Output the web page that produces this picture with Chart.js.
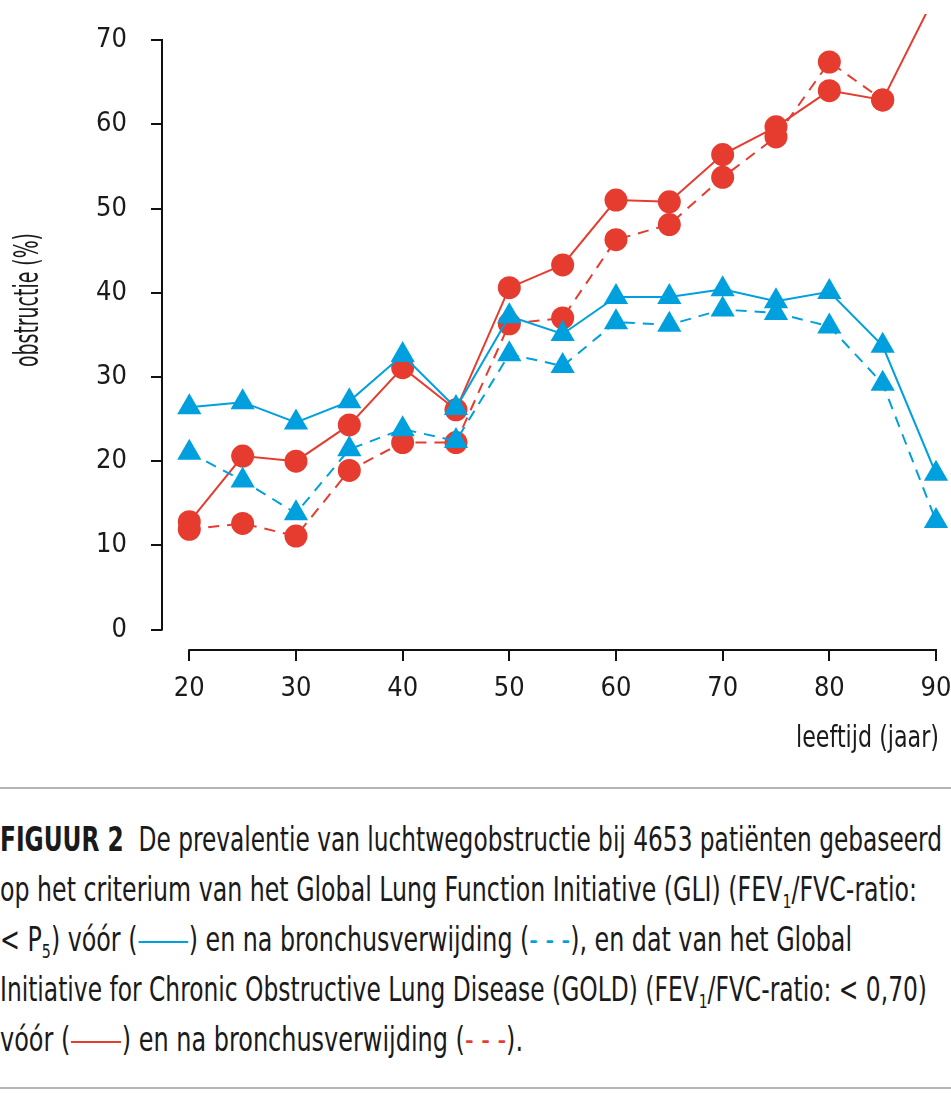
<!DOCTYPE html>
<html lang="nl">
<head>
<meta charset="utf-8">
<title>Figuur 2 – prevalentie luchtwegobstructie</title>
<script src="https://cdn.jsdelivr.net/npm/chart.js@4.4.1/dist/chart.umd.min.js"></script>
<style>
  html, body { margin: 0; padding: 0; background: #fff; }
  body {
    width: 951px; height: 1100px; overflow: hidden;
    font-family: 'DejaVu Sans Condensed', 'DejaVu Sans', sans-serif;
    font-stretch: condensed;
    color: #1a1a1a;
  }
  #wrap { position: relative; width: 951px; height: 770px; }
  .rule { height: 2px; background: #b5b5b5; }
  .cap { margin: 26px 0 22px 0; font-size: 33px; line-height: 50px; white-space: nowrap; }
  .cap > div { transform-origin: 0 50%; width: max-content; }
  .cap b { font-weight: bold; }
  .cap sub { font-size: 60%; vertical-align: -0.35em; line-height: 0; }
  .ln { display: inline-block; width: 62px; height: 0; border-top: 2px solid; vertical-align: middle; margin: 0 1px; }
  .blue { color: #00a0de; border-color: #00a0de; }
  .red  { color: #e63c2f; border-color: #e63c2f; }
</style>
</head>
<body>
<div id="wrap"><canvas id="chart" width="951" height="770"></canvas></div>
<div class="rule" style="margin-top:17px"></div>
<div class="cap" id="cap">
  <div><b>FIGUUR 2</b>&nbsp; De prevalentie van luchtwegobstructie bij 4653 patiënten gebaseerd</div>
  <div>op het criterium van het Global Lung Function Initiative (GLI) (FEV<sub>1</sub>/FVC-ratio:</div>
  <div>&lt; P<sub>5</sub>) vóór (<span class="ln blue"></span>) en na bronchusverwijding (<span class="blue">- - -</span>), en dat van het Global</div>
  <div>Initiative for Chronic Obstructive Lung Disease (GOLD) (FEV<sub>1</sub>/FVC-ratio: &lt; 0,70)</div>
  <div>vóór (<span class="ln red"></span>) en na bronchusverwijding (<span class="red">- - -</span>).</div>
</div>
<div class="rule"></div>

<script>
// leeftijd (jaar)
const ages = [20, 25, 30, 35, 40, 45, 50, 55, 60, 65, 70, 75, 80, 85, 90];

// obstructie (%) per criterium, vóór en na bronchusverwijding
const gliVoor  = [26.4, 27.0, 24.6, 27.1, 32.6, 26.3, 37.2, 35.1, 39.5, 39.5, 40.4, 39.0, 40.1, 33.7, 18.5];
const gliNa    = [21.0, 17.7, 13.8, 21.4, 23.8, 22.4, 32.7, 31.3, 36.5, 36.2, 38.0, 37.6, 36.0, 29.2, 12.9];
const goldVoor = [12.8, 20.6, 20.0, 24.3, 31.1, 26.1, 40.6, 43.3, 51.0, 50.8, 56.4, 59.7, 64.0, 62.9, 75.5];
const goldNa   = [11.9, 12.6, 11.1, 18.9, 22.2, 22.2, 36.3, 37.0, 46.3, 48.1, 53.7, 58.5, 67.4, 62.9, null];

const xTicks = [20, 30, 40, 50, 60, 70, 80, 90];
const yTicks = [0, 10, 20, 30, 40, 50, 60, 70];

const yTitle = 'obstructie (%)';
const xTitle = 'leeftijd (jaar)';

const BLUE = '#00a0de';
const RED  = '#e63c2f';
const FONT = "'DejaVu Sans Condensed', 'DejaVu Sans', sans-serif";

// bijschrift: elke regel smal maken tot de breedte in het origineel
const capWidths = [942, 917, 852, 927, 523];
document.querySelectorAll('#cap > div').forEach((d, i) => {
    const sx = capWidths[i] / d.getBoundingClientRect().width;
    d.style.transform = 'scaleX(' + sx + ')';
});

const toPoints = vals => ages.map((a, i) => ({ x: a, y: vals[i] }));

const serie = (vals, color, shape, dashed) => ({
    data: toPoints(vals),
    borderColor: color,
    backgroundColor: color,
    borderWidth: 2,
    borderDash: dashed ? [11, 8] : [],
    pointStyle: shape,
    pointRadius: shape === 'triangle' ? 14 : 11.5,
    pointHoverRadius: shape === 'triangle' ? 14 : 11.5,
    pointBorderWidth: 0,
    pointBackgroundColor: color,
    tension: 0,
    clip: { left: false, top: 0, right: false, bottom: false },
});

// tekst smal tekenen (schaal in de leesrichting)
function narrowText(ctx, text, x, y, width) {
    const w = ctx.measureText(text).width;
    ctx.save();
    ctx.translate(x, y);
    ctx.scale(width / w, 1);
    ctx.fillText(text, 0, 0);
    ctx.restore();
}

// assen (losse lijnen van eerste tot laatste tick) + astitels
const axisLines = {
    id: 'axisLines',
    afterDraw(chart) {
        const { ctx, scales: { x, y } } = chart;
        ctx.save();
        ctx.strokeStyle = '#111';
        ctx.lineWidth = 2;
        ctx.beginPath();
        ctx.moveTo(x.left, y.getPixelForValue(yTicks[0]) + 1);
        ctx.lineTo(x.left, y.getPixelForValue(yTicks[yTicks.length - 1]) - 1);
        ctx.moveTo(x.getPixelForValue(xTicks[0]) - 1, y.bottom);
        ctx.lineTo(x.getPixelForValue(xTicks[xTicks.length - 1]) + 1, y.bottom);
        ctx.stroke();

        ctx.fillStyle = '#1a1a1a';
        ctx.textBaseline = 'middle';

        ctx.font = '30px ' + FONT;
        ctx.textAlign = 'right';
        narrowText(ctx, xTitle, 939, 739, 143);

        ctx.font = '33px ' + FONT;
        ctx.translate(29, 300);
        ctx.rotate(-Math.PI / 2);
        ctx.textAlign = 'center';
        narrowText(ctx, yTitle, 0, 0, 134);
        ctx.restore();
    }
};

new Chart(document.getElementById('chart'), {
    type: 'line',
    data: {
        datasets: [
            serie(gliVoor,  BLUE, 'triangle', false),
            serie(gliNa,    BLUE, 'triangle', true),
            serie(goldVoor, RED,  'circle',   false),
            serie(goldNa,   RED,  'circle',   true),
        ]
    },
    options: {
        responsive: false,
        animation: false,
        events: [],
        layout: { padding: { top: 14, right: 15, left: 0, bottom: 0 } },
        plugins: { legend: { display: false }, tooltip: { enabled: false } },
        scales: {
            x: {
                type: 'linear',
                min: 17.44,
                max: 90,
                afterFit: s => { s.height = 120; s.paddingLeft = 0; s.paddingRight = 0; },
                afterBuildTicks: s => { s.ticks = xTicks.map(v => ({ value: v })); },
                border: { display: false },
                grid: { drawOnChartArea: false, drawTicks: true, tickLength: 11, color: '#111', lineWidth: 2 },
                ticks: {
                    color: '#1a1a1a',
                    font: { family: FONT, size: 27 },
                    padding: 12,
                    maxRotation: 0,
                    autoSkip: false,
                }
            },
            y: {
                min: -2.43,
                max: 73.1,
                afterFit: s => { s.width = 162; s.paddingTop = 0; s.paddingBottom = 0; },
                afterBuildTicks: s => { s.ticks = yTicks.map(v => ({ value: v })); },
                border: { display: false },
                grid: { drawOnChartArea: false, drawTicks: true, tickLength: 11, color: '#111', lineWidth: 2 },
                ticks: {
                    color: '#1a1a1a',
                    font: { family: FONT, size: 27 },
                    padding: 24,
                }
            }
        }
    },
    plugins: [axisLines]
});
</script>
</body>
</html>
